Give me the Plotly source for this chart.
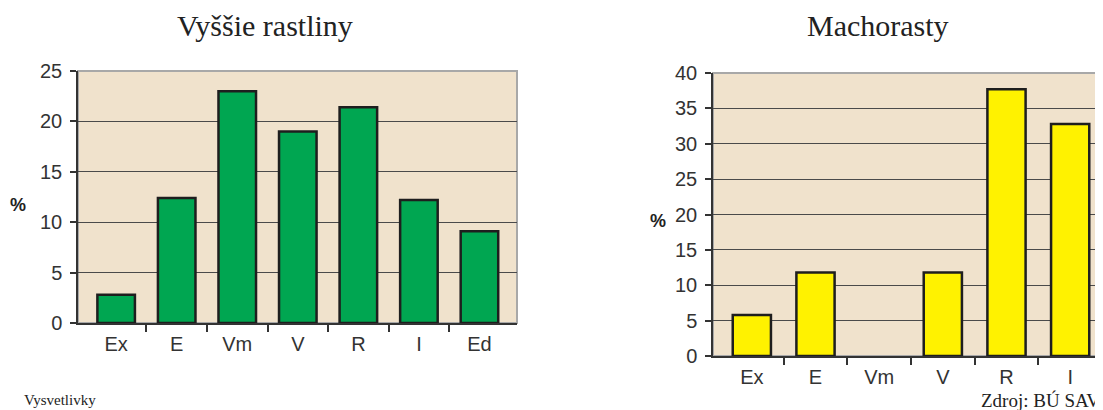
import plotly.graph_objects as go
from plotly.subplots import make_subplots

# data
higher_cats = ["Ex", "E", "Vm", "V", "R", "I", "Ed"]
higher_vals = [2.8, 12.4, 23.0, 19.0, 21.4, 12.2, 9.1]

moss_cats = ["Ex", "E", "Vm", "V", "R", "I"]
moss_vals = [5.8, 11.8, None, 11.8, 37.7, 32.8]  # no bar for Vm

W, H = 1103, 410
OFF = 8  # page body margin shifts the figure by this much
BG = "#F0E2CC"
GRID = "#4a4a4a"
AXC = "#333333"
SANS = "Liberation Sans, Arial, sans-serif"
SERIF = "Liberation Serif, DejaVu Serif, serif"


def fx(px):
    return (px - OFF) / W


def fy(px):
    return 1 - (px - OFF) / H


def x_axis(cats, pad_l, pad_r):
    n = len(cats)
    return dict(
        range=[-0.5 - pad_l, n - 0.5 + pad_r],
        tickmode="array", tickvals=list(range(n)), ticktext=cats, ticks="",
        minor=dict(tickmode="array", tickvals=[i + 0.5 for i in range(n - 1)],
                   ticks="outside", ticklen=7, tickcolor=AXC, tickwidth=1.5,
                   showgrid=False),
    )


fig = make_subplots(rows=1, cols=2)

fig.add_trace(
    go.Bar(x=list(range(len(higher_cats))), y=higher_vals, width=0.62,
           marker=dict(color="#00A651", line=dict(color="#1e1e1e", width=2.5))),
    row=1, col=1,
)
fig.add_trace(
    go.Bar(x=list(range(len(moss_cats))), y=moss_vals, width=0.6,
           marker=dict(color="#FFF200", line=dict(color="#1e1e1e", width=2.5))),
    row=1, col=2,
)

# plot areas placed by pixel
fig.update_layout(
    xaxis=dict(domain=[fx(78), fx(517)], **x_axis(higher_cats, 0.13, 0.12)),
    yaxis=dict(domain=[fy(323), fy(71)], range=[0, 25], dtick=5),
    xaxis2=dict(domain=[fx(713), fx(1102)], **x_axis(moss_cats, 0.11, 0.0)),
    yaxis2=dict(domain=[fy(356), fy(73)], range=[0, 40], dtick=5),
)

fig.update_xaxes(
    showline=True, linecolor=AXC, linewidth=1.5, showgrid=False,
    zeroline=False, fixedrange=True, automargin=False,
    tickfont=dict(family=SANS, size=20, color="#333333"),
    ticklabelstandoff=2,
)
fig.update_yaxes(
    ticks="outside", ticklen=6, tickcolor=AXC, tickwidth=1.5,
    showline=True, linecolor=AXC, linewidth=1.5, showgrid=True,
    gridcolor=GRID, gridwidth=1, zeroline=False, fixedrange=True,
    automargin=False, tickfont=dict(family=SANS, size=20, color="#333333"),
    ticklabelstandoff=4,
)

# light frame on top/right of each plot area
for xr, yr in [("x", "y"), ("x2", "y2")]:
    fig.add_shape(type="rect", xref=f"{xr} domain", yref=f"{yr} domain",
                  x0=0, x1=1, y0=0, y1=1, line=dict(color="#a8a8a8", width=2),
                  layer="below")

labels = [
    ("Vyššie rastliny", 265, 25, 30, SERIF),
    ("Machorasty", 878, 25, 30, SERIF),
    ("<b>%</b>", 18, 205, 18, SANS),
    ("<b>%</b>", 658, 221, 18, SANS),
]
for text, x, y, size, family in labels:
    fig.add_annotation(
        text=text, x=fx(x), y=fy(y), xref="paper", yref="paper",
        showarrow=False, xanchor="center", yanchor="middle",
        font=dict(family=family, size=size, color="#222222"),
    )

fig.add_annotation(
    text="Zdroj: BÚ SAV", x=fx(1102), y=fy(400), xref="paper", yref="paper",
    showarrow=False, xanchor="right", yanchor="middle",
    font=dict(family=SERIF, size=19, color="#222222"),
)
fig.add_annotation(
    text="Vysvetlivky", x=fx(22), y=fy(410), xref="paper", yref="paper",
    showarrow=False, xanchor="left", yanchor="bottom",
    font=dict(family=SERIF, size=15, color="#222222"),
)

fig.update_layout(
    width=W, height=H,
    margin=dict(l=0, r=0, t=0, b=0, autoexpand=False),
    paper_bgcolor="white",
    plot_bgcolor=BG,
    showlegend=False,
)

fig.write_html("out.html")
